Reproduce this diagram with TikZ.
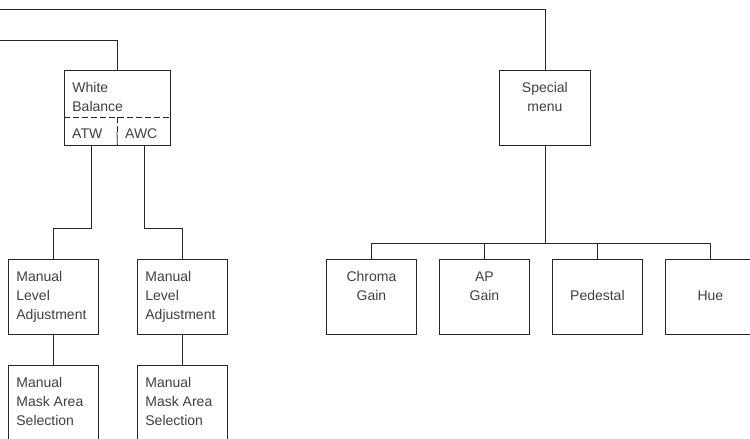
\documentclass[tikz,border=0pt]{standalone}
\usepackage{fontspec}
\setmainfont{Liberation Sans}
\tikzset{
  menubox/.style={draw=black!85, line width=0.8pt, inner sep=0pt, anchor=north west,
    text=black!75, font=\fontsize{14pt}{19pt}\selectfont},
  wire/.style={draw=black!85, line width=0.8pt},
  split/.style={draw=black!85, line width=0.8pt, dash pattern=on 6pt off 3pt},
  subtext/.style={inner sep=0pt, anchor=base west, text=black!75, font=\fontsize{14pt}{19pt}\selectfont},
}
\newcommand{\lefttext}[2][90pt]{\parbox[b][75pt][t]{#1}{\raggedright\leftskip=8pt\baselineskip=19pt\rule{0pt}{22pt}#2}}
\newcommand{\centertext}[2][90pt]{\parbox[b][75pt][t]{#1}{\centering\baselineskip=19pt\rule{0pt}{22pt}#2}}
\begin{document}
\begin{tikzpicture}[x=1pt, y=-1pt]
      \useasboundingbox (0,0) rectangle (750,439);
      \clip (0,0) rectangle (750,439);
      % WHITE BALANCE BRANCH
      \node[menubox] (wb) at (64,70) {\lefttext[106pt]{White\\Balance}};
      \draw[split] (64,117) -- (170,117);
      \draw[split] (117,117) -- (117,132);
      \draw[wire] (117,132) -- (wb.south);
      \node[subtext] (atw) at (72,138) {ATW};
      \node[subtext] (awc) at (125,138) {AWC};
      \coordinate (atwport) at (91,145);
      \coordinate (awcport) at (144,145);
      % MANUAL BOXES
      \node[menubox] (mla1) at (8,259) {\lefttext{Manual\\Level\\Adjustment}};
      \node[menubox] (mla2) at (137,259) {\lefttext{Manual\\Level\\Adjustment}};
      \node[menubox] (mask1) at (8,365) {\lefttext{Manual\\Mask Area\\Selection}};
      \node[menubox] (mask2) at (137,365) {\lefttext{Manual\\Mask Area\\Selection}};
      % SPECIAL MENU BRANCH
      \node[menubox] (special) at (499,70) {\centertext[91pt]{Special\\menu}};
      \node[menubox] (chroma) at (326,259) {\centertext{Chroma\\Gain}};
      \node[menubox] (apgain) at (439,259) {\centertext{AP\\Gain}};
      \node[menubox] (pedestal) at (552,259) {\centertext{\\Pedestal}};
      \node[menubox] (hue) at (665,259) {\centertext{\\Hue}};
      % WIRES
      \coordinate (topleft) at (0,9);
      \coordinate (midleft) at (0,40);
      \draw[wire] (topleft) -| (special.north);
      \draw[wire] (midleft) -| (wb.north);
      \draw[wire] (atwport) -- ++(0,83) -| (mla1.north);
      \draw[wire] (awcport) -- ++(0,83) -| (mla2.north);
      \draw[wire] (mla1.south) -- (mask1.north);
      \draw[wire] (mla2.south) -- (mask2.north);
      \draw[wire] (special.south) -- ++(0,98) coordinate (bus);
      \draw[wire] (bus) -| (chroma.north);
      \draw[wire] (bus) -| (apgain.north);
      \draw[wire] (bus) -| (pedestal.north);
      \draw[wire] (bus) -| (hue.north);
    \end{tikzpicture}
\end{document}
